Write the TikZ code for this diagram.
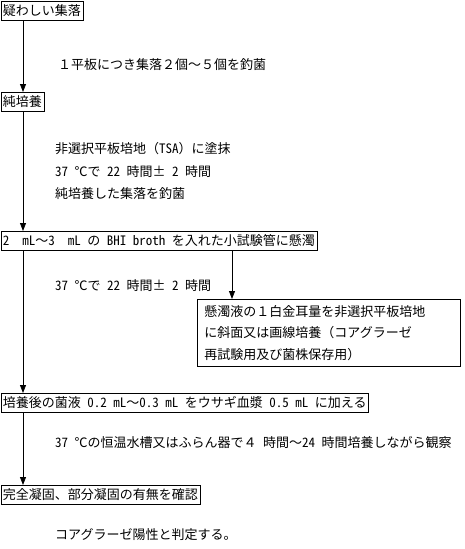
\documentclass[tikz,border=0pt]{standalone}
\usepackage{fontspec}
\setmainfont{Noto Sans CJK JP}
\newfontfamily\hwfont{Noto Sans CJK JP}[RawFeature=+hwid]
\newcommand{\hw}[1]{{\hwfont #1}}
\usetikzlibrary{arrows.meta}
\begin{document}
\begin{tikzpicture}[x=1pt,y=-1pt,
  every node/.style={font=\fontsize{13}{15}\selectfont},
  box/.style={draw, line width=0.8pt, anchor=north west, inner xsep=2pt, inner ysep=0pt, minimum height=19pt},
  bigbox/.style={draw, line width=0.8pt, anchor=north west, minimum width=263pt, minimum height=67pt,
     text width=249pt, inner xsep=7pt, align=left, font=\fontsize{13}{21.5}\selectfont},
  lbl/.style={anchor=west, inner sep=0pt},
  arr/.style={line width=0.8pt, -{Triangle[width=6pt,length=8pt]}}]
\useasboundingbox (0,0) rectangle (465,549);

\node[box] (b1) at (0.5,0.5) {疑わしい集落};
\node[box] (b2) at (0.5,92) {純培養};
\node[box] (b3) at (0.5,231) {\hw{2\ \ mL}～\hw{3\ \ mL }の\hw{ BHI broth }を入れた小試験管に懸濁};
\node[bigbox] (b4) at (197,299) {懸濁液の１白金耳量を非選択平板培地\\に斜面又は画線培養（コアグラーゼ\\再試験用及び菌株保存用）};
\node[box] (b5) at (0.5,393) {培養後の菌液\hw{ 0.2 mL}～\hw{0.3 mL }をウサギ血漿\hw{ 0.5 mL }に加える};
\node[box] (b6) at (0.5,485) {完全凝固、部分凝固の有無を確認};

\node[lbl] (l1) at (58,65) {１平板につき集落２個～５個を釣菌};
\node[lbl] (l2) at (55,149) {非選択平板培地（\hw{TSA}）に塗抹};
\node[lbl] (l3) at (55,172) {\hw{37 }℃で\hw{ 22 }時間±\hw{ 2 }時間};
\node[lbl] (l4) at (55,194) {純培養した集落を釣菌};
\node[lbl] (l5) at (55,286) {\hw{37 }℃で\hw{ 22 }時間±\hw{ 2 }時間};
\node[lbl] (l6) at (55,443) {\hw{37 }℃の恒温水槽又はふらん器で４\hw{ }時間～\hw{24 }時間培養しながら観察};
\node[lbl] (l7) at (55,535) {コアグラーゼ陽性と判定する。};

\draw[arr] ([xshift=22.5pt]b1.south west) -- ([xshift=22.5pt]b2.north west);
\draw[arr] ([xshift=22.5pt]b2.south west) -- ([xshift=22.5pt]b3.north west);
\draw[arr] ([xshift=22.5pt]b3.south west) -- ([xshift=22.5pt]b5.north west);
\draw[arr] ([xshift=231.5pt]b3.south west) coordinate (br) -- (br |- b4.north);
\draw[arr] ([xshift=22.5pt]b5.south west) -- ([xshift=22.5pt]b6.north west);
\end{tikzpicture}
\end{document}
